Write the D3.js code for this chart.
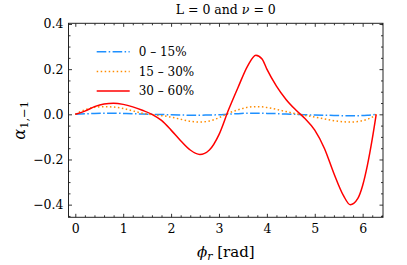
<!DOCTYPE html>
<html>
<head>
<meta charset="utf-8">
<script src="https://cdn.jsdelivr.net/npm/d3@7"></script>
<style>
  body { margin: 0; background: #fff; }
  text { font-family: "DejaVu Serif", serif; fill: #000; }
</style>
</head>
<body>
<div id="chart"></div>
<script>
// values
const phi = [0, 0.2, 0.4, 0.6, 0.8, 1.0, 1.2, 1.4, 1.6, 1.8, 2.0, 2.2, 2.4, 2.6, 2.8, 3.0,
  3.2, 3.4, 3.6, 3.77, 3.9, 4.0, 4.2, 4.4, 4.6, 4.8, 5.0, 5.2, 5.4, 5.6, 5.74, 5.9, 6.0, 6.1, 6.2, 6.283];
const c0_15 = [0, 0.002, 0.004, 0.005, 0.005, 0.004, 0.003, 0.001, 0, -0.001, -0.002, -0.003, -0.004, -0.004, -0.003, -0.002,
  0.001, 0.003, 0.005, 0.005, 0.005, 0.004, 0.003, 0.001, 0, -0.002, -0.003, -0.004, -0.005, -0.006, -0.006, -0.006, -0.005, -0.004, -0.002, 0];
const c15_30 = [0, 0.02, 0.031, 0.034, 0.032, 0.026, 0.015, 0.005, -0.002, -0.006, -0.012, -0.022, -0.031, -0.034, -0.03, -0.015,
  0.005, 0.02, 0.031, 0.034, 0.033, 0.03, 0.022, 0.012, 0.003, -0.005, -0.012, -0.02, -0.028, -0.033, -0.034, -0.032, -0.028, -0.022, -0.012, 0];
const c30_60 = [0, 0.014, 0.034, 0.046, 0.049, 0.044, 0.033, 0.018, 0.0, -0.027, -0.07, -0.117, -0.158, -0.178, -0.158, -0.09,
  0.02, 0.12, 0.215, 0.262, 0.245, 0.2, 0.125, 0.066, 0.02, -0.02, -0.07, -0.15, -0.262, -0.36, -0.4, -0.372, -0.315, -0.225, -0.11, 0];

const seriesNames = ["0 \u2013 15%", "15 \u2013 30%", "30 \u2013 60%"];
const xTicks = [0, 1, 2, 3, 4, 5, 6];
const yTicks = [-0.4, -0.2, 0.0, 0.2, 0.4];

const series = [
  {name: seriesNames[0], vals: c0_15, color: "#1e90ff", dash: "9.6,2.4,1.5,2.4"},
  {name: seriesNames[1], vals: c15_30, color: "#ff8c00", dash: "1.5,2.5"},
  {name: seriesNames[2], vals: c30_60, color: "#ff0000", dash: null}
];

const width = 407, height = 265;
const margin = {left: 68.5, right: 24, top: 23.3, bottom: 47.7};

const svg = d3.select('#chart')
    .append('svg')
    .attr('width', width)
    .attr('height', height);

const x = d3.scaleLinear().domain([-0.142, 6.425]).range([margin.left, width - margin.right]);
const y = d3.scaleLinear().domain([-0.456, 0.403]).range([height - margin.bottom, margin.top]);

const minorX = d3.range(-0.0, 6.41, 0.2).filter(v => Math.abs(v - Math.round(v)) > 1e-6);
const minorY = d3.range(-0.45, 0.401, 0.05).filter(v => Math.abs(v * 5 - Math.round(v * 5)) > 1e-6);

// lines
const line = d3.line()
    .x((d, i) => x(phi[i]))
    .y(d => y(d))
    .curve(d3.curveMonotoneX);

const plot = svg.append('g');
plot.append('clipPath').attr('id', 'clip')
  .append('rect')
    .attr('x', x.range()[0]).attr('y', y.range()[1])
    .attr('width', x.range()[1] - x.range()[0])
    .attr('height', y.range()[0] - y.range()[1]);

plot.selectAll('path.series')
  .data(series)
  .enter().append('path')
    .attr('class', 'series')
    .attr('clip-path', 'url(#clip)')
    .attr('d', d => line(d.vals))
    .attr('fill', 'none')
    .attr('stroke', d => d.color)
    .attr('stroke-width', 1.5)
    .attr('stroke-dasharray', d => d.dash);

// axes (ticks point inward on all four sides)
function styleAxis(g) {
  g.select('.domain').remove();
  g.selectAll('line').attr('stroke', '#000').attr('stroke-width', 0.8);
  g.selectAll('text').style('font-size', '12.5px');
}

const y0 = y.range()[0], y1 = y.range()[1];
const x0 = x.range()[0], x1 = x.range()[1];

svg.append('g').attr('transform', `translate(0,${y0})`)
  .call(d3.axisBottom(x).tickValues(xTicks).tickFormat(d3.format('d')).tickSizeInner(-3.5).tickSizeOuter(0).tickPadding(7))
  .call(styleAxis);
svg.append('g').attr('transform', `translate(0,${y0})`)
  .call(d3.axisBottom(x).tickValues(minorX).tickFormat('').tickSizeInner(-2).tickSizeOuter(0))
  .call(styleAxis);
svg.append('g').attr('transform', `translate(0,${y1})`)
  .call(d3.axisTop(x).tickValues(xTicks).tickFormat('').tickSizeInner(-3.5).tickSizeOuter(0))
  .call(styleAxis);
svg.append('g').attr('transform', `translate(0,${y1})`)
  .call(d3.axisTop(x).tickValues(minorX).tickFormat('').tickSizeInner(-2).tickSizeOuter(0))
  .call(styleAxis);

svg.append('g').attr('transform', `translate(${x0},0)`)
  .call(d3.axisLeft(y).tickValues(yTicks).tickFormat(d => d3.format('.1f')(d).replace('-', '\u2212')).tickSizeInner(-3.5).tickSizeOuter(0).tickPadding(5))
  .call(styleAxis);
svg.append('g').attr('transform', `translate(${x0},0)`)
  .call(d3.axisLeft(y).tickValues(minorY).tickFormat('').tickSizeInner(-2).tickSizeOuter(0))
  .call(styleAxis);
svg.append('g').attr('transform', `translate(${x1},0)`)
  .call(d3.axisRight(y).tickValues(yTicks).tickFormat('').tickSizeInner(-3.5).tickSizeOuter(0))
  .call(styleAxis);
svg.append('g').attr('transform', `translate(${x1},0)`)
  .call(d3.axisRight(y).tickValues(minorY).tickFormat('').tickSizeInner(-2).tickSizeOuter(0))
  .call(styleAxis);

// frame
svg.append('rect')
    .attr('x', x0).attr('y', y1)
    .attr('width', x1 - x0).attr('height', y0 - y1)
    .attr('fill', 'none')
    .attr('stroke', '#222')
    .attr('stroke-width', 1);

// title
const title = svg.append('text')
    .attr('x', (x0 + x1) / 2)
    .attr('y', 14)
    .attr('text-anchor', 'middle')
    .style('font-size', '12.5px');
title.append('tspan').text('L = 0 and ');
title.append('tspan').style('font-style', 'italic').text('\u03bd');
title.append('tspan').text(' = 0');

// axis labels
const xl = svg.append('text')
    .attr('x', (x0 + x1) / 2)
    .attr('y', 257)
    .attr('text-anchor', 'middle')
    .style('font-size', '15px');
xl.append('tspan').style('font-style', 'italic').text('\u03d5');
xl.append('tspan').style('font-style', 'italic').style('font-size', '11px').attr('dy', 3).text('r');
xl.append('tspan').attr('dy', -3).text(' [rad]');

const yl = svg.append('text')
    .attr('transform', `translate(25,${(y0 + y1) / 2}) rotate(-90)`)
    .attr('text-anchor', 'middle')
    .style('font-size', '16px');
yl.append('tspan').style('font-style', 'italic').text('\u03b1');
yl.append('tspan').style('font-size', '11.5px').attr('dy', 3).text('1,\u22121');

// legend
const legend = svg.append('g').attr('transform', 'translate(96.7,51.7)');
const item = legend.selectAll('g')
  .data(series)
  .enter().append('g')
    .attr('transform', (d, i) => `translate(0,${i * 19.7})`);
item.append('line')
    .attr('x1', 0).attr('x2', 33)
    .attr('stroke', d => d.color)
    .attr('stroke-width', 1.5)
    .attr('stroke-dasharray', d => d.dash);
item.append('text')
    .attr('x', 42)
    .attr('dy', '0.35em')
    .style('font-size', '12px')
    .text(d => d.name);
</script>
</body>
</html>
